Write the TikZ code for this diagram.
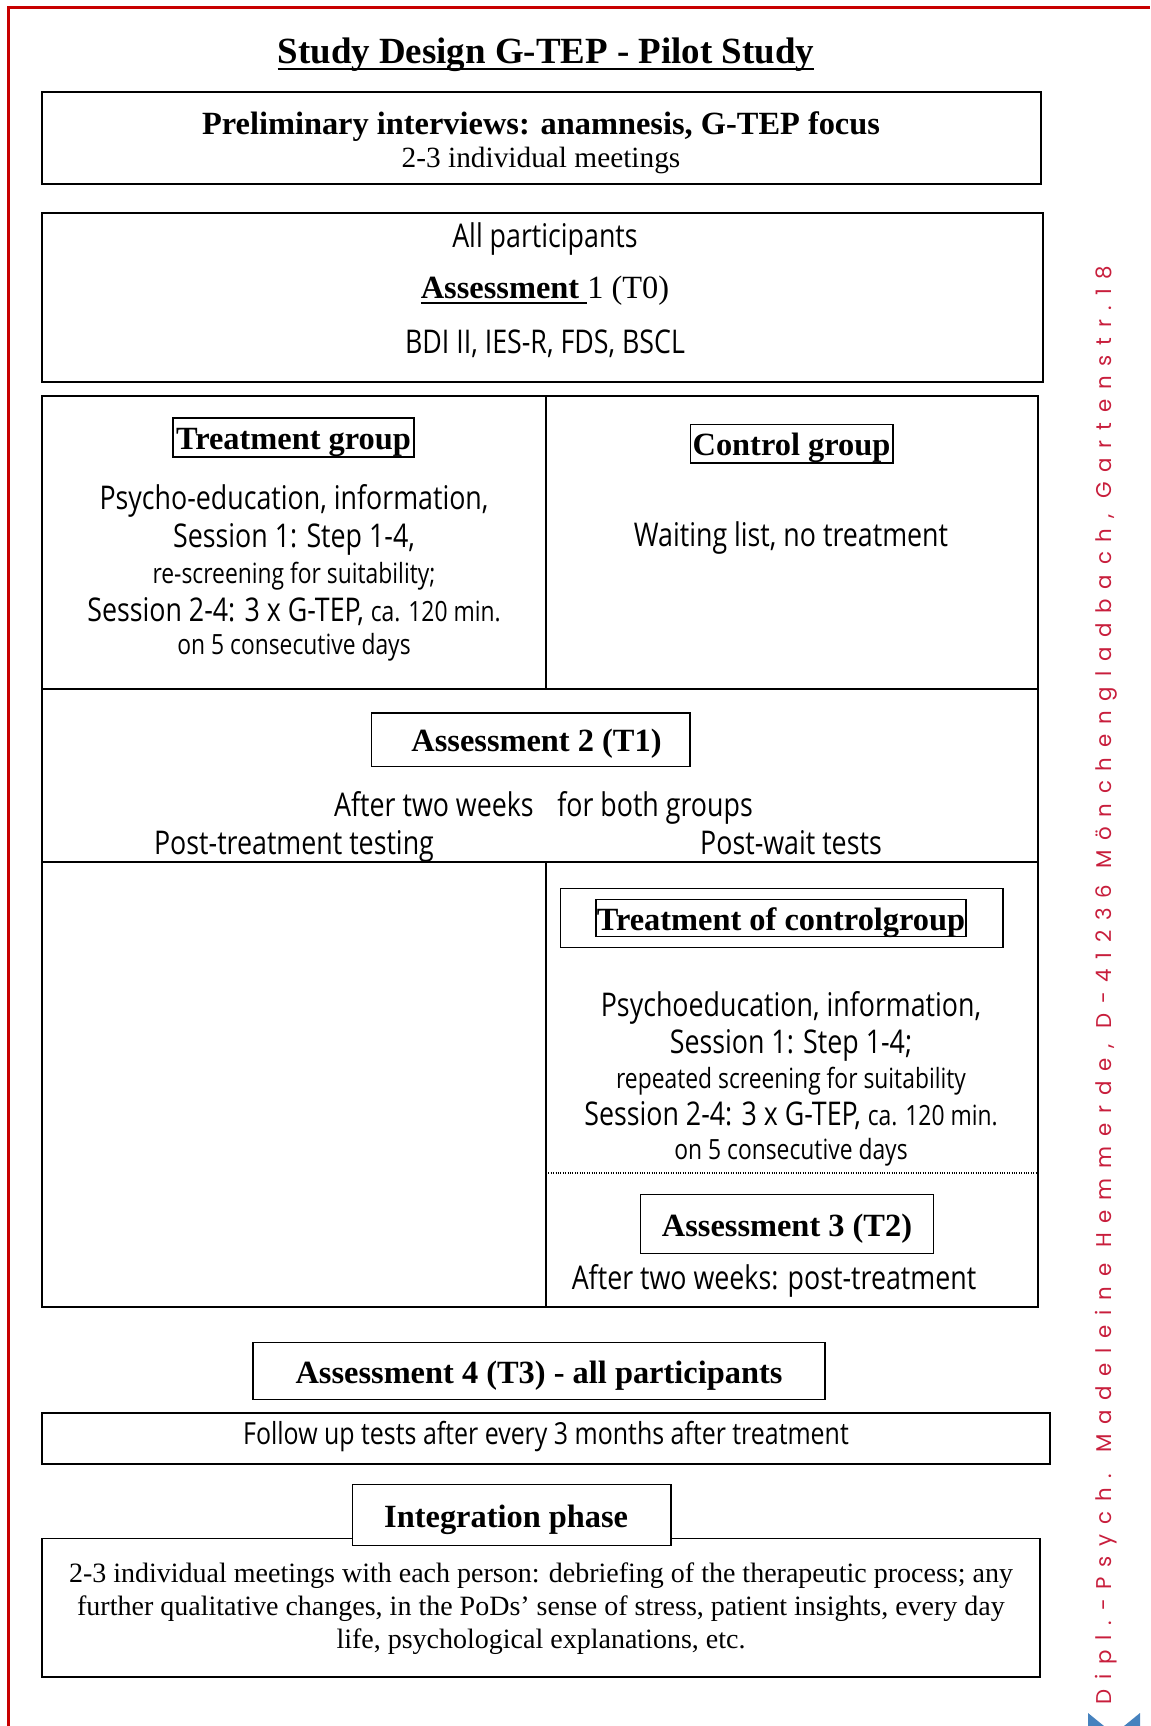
\documentclass[tikz,border=0pt]{standalone}
\usepackage{fontspec}
\setmainfont{Liberation Serif}
\newfontfamily\plainsans{Open Sans}[FakeStretch=0.82]
\newfontfamily\addressfont{Poppins}[LetterSpace=46]

\definecolor{framered}{RGB}{200,0,0}
\definecolor{addressred}{RGB}{200,30,60}
\definecolor{logoblue}{RGB}{70,130,190}

\newcommand{\labelsize}{\fontsize{24.3}{28}\selectfont}
\newcommand{\sansmain}{\plainsans\fontsize{24.5}{28}\selectfont}
\newcommand{\sanssmall}{\plainsans\fontsize{20.9}{24}\selectfont}
\newsavebox{\ulbox}
\newcommand{\thickul}[2][-4pt]{\sbox{\ulbox}{#2}\rlap{\rule[#1]{\wd\ulbox}{1.6pt}}\usebox{\ulbox}}

\begin{document}
\begin{tikzpicture}[x=0.75pt, y=-0.75pt,
    box/.style={line width=1.2pt},
    lab/.style={draw, line width=1pt, fill=white, inner sep=1pt, font=\bfseries\labelsize, text height=22pt, text depth=4pt},
    body/.style={inner sep=0pt, font=\sansmain, text height=18pt, text depth=4pt},
    smallbody/.style={inner sep=0pt, font=\sanssmall, text height=15pt, text depth=3.5pt}]
    \useasboundingbox (0,0) rectangle (1150,1726);

    % letterhead
    \draw[framered, line width=2.25pt] (8.5,1726) -- (8.5,7.5) -- (1150,7.5);
    \node[rotate=90, anchor=base, inner sep=0pt, text=addressred, font=\addressfont\fontsize{16}{16}\selectfont] (address) at (1111,985) {Dipl.-Psych. Madeleine Hemmerde, D-41236 Mönchengladbach, Gartenstr.18};
    \fill[logoblue] (1088,1713) -- (1104,1726) -- (1088,1726) -- cycle;
    \fill[logoblue] (1140,1713) -- (1124,1726) -- (1140,1726) -- cycle;

    \node[font=\bfseries\fontsize{27.7}{32}\selectfont, inner sep=0pt] (title) at (546,54.5) {\thickul[-5pt]{Study Design G-TEP - Pilot Study}};

    % preliminary interviews
    \draw[box] (42,92) rectangle (1041,184);
    \node[font=\bfseries\labelsize, inner sep=0pt] (prelim) at (541,126.5) {Preliminary interviews: anamnesis, G-TEP focus};
    \node[font=\fontsize{22}{26}\selectfont, inner sep=0pt] (meetings) at (541,160.5) {2-3 individual meetings};

    % assessment 1
    \draw[box] (42,213) rectangle (1043,382);
    \node[body] (allpart) at (545,238.5) {All participants};
    \node[font=\labelsize, inner sep=0pt] (assess1) at (545,291) {\thickul{\textbf{Assessment }}1 (T0)};
    \node[body] (tests) at (545,344) {BDI II, IES-R, FDS, BSCL};

    % treatment and control group
    \draw[box] (42,396) rectangle (1038,689);
    \draw[box] (546,396) -- (546,689);
    \node[lab, minimum width=180.75pt, minimum height=29.25pt] (treatgrp) at (293.5,437.5) {Treatment group};
    \node[body] (tg1) at (294,500) {Psycho-education, information,};
    \node[body] (tg2) at (294,538) {Session 1: Step 1-4,};
    \node[smallbody] (tg3) at (294,576) {re-screening for suitability;};
    \node[body] (tg4) at (294,612) {Session 2-4: 3 x G-TEP, {\sanssmall ca. 120 min.}};
    \node[smallbody] (tg5) at (294,647) {on 5 consecutive days};
    \node[lab, minimum width=152pt, minimum height=29pt] (ctrlgrp) at (791.5,443.5) {Control group};
    \node[body] (waiting) at (791,537) {Waiting list, no treatment};

    % assessment 2
    \draw[box] (42,689) rectangle (1038,862);
    \node[lab, minimum width=239pt, minimum height=40pt] (assess2) at (530.5,739.5) {\hspace*{9pt}Assessment 2 (T1)};
    \node[body, anchor=east] (after1) at (534,807) {After two weeks};
    \node[body, anchor=west] (after2) at (557,807) {for both groups};
    \node[body] (posttreat) at (294,845) {Post-treatment testing};
    \node[body] (postwait) at (791,845) {Post-wait tests};

    % treatment of the control group
    \draw[box] (42,862) rectangle (1038,1307);
    \draw[box] (546,862) -- (546,1307);
    \node[draw, line width=1pt, minimum width=332pt, minimum height=44pt] (tcframe) at (781.5,918) {};
    \node[lab, inner sep=0.5pt, minimum height=28pt] (treatctrl) at (781,918) {Treatment of controlgroup};
    \node[body] (cg1) at (791,1007.5) {Psychoeducation, information,};
    \node[body] (cg2) at (791,1044.5) {Session 1: Step 1-4;};
    \node[smallbody] (cg3) at (791,1081) {repeated screening for suitability};
    \node[body] (cg4) at (791,1116.5) {Session 2-4: 3 x G-TEP, {\sanssmall ca. 120 min.}};
    \node[smallbody] (cg5) at (791,1151.5) {on 5 consecutive days};
    \draw[densely dotted, line width=0.8pt] (546,1173) -- (1036,1173);
    \node[lab, minimum width=220pt, minimum height=44pt] (assess3) at (787,1224) {Assessment 3 (T2)};
    \node[body] (after3) at (774,1280) {After two weeks: post-treatment};

    % follow up
    \node[lab, minimum width=429pt, minimum height=42.3pt] (assess4) at (539,1371) {Assessment 4 (T3) - all participants};
    \draw[box] (42,1413) rectangle (1050,1464);
    \node[body, font=\plainsans\fontsize{22.8}{26}\selectfont] (followup) at (546,1435) {Follow up tests after every 3 months after treatment};

    % integration
    \draw[box] (42,1538.5) rectangle (1040,1677);
    \node[lab, minimum width=239pt, minimum height=45.3pt] (integr) at (511.5,1515) {Integration phase\hspace*{8pt}};
    \node[align=center, inner sep=0pt, font=\fontsize{21}{24.75}\selectfont] (debrief) at (541,1609) {2-3 individual meetings with each person: debriefing of the therapeutic process; any\\further qualitative changes, in the PoDs' sense of stress, patient insights, every day\\life, psychological explanations, etc.};

\end{tikzpicture}
\end{document}
